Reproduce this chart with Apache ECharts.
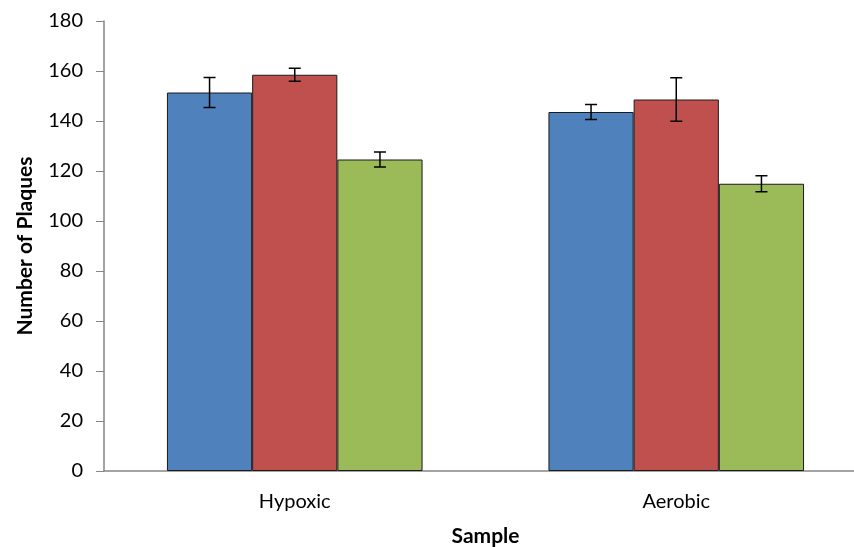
<!DOCTYPE html>
<html>
<head>
<meta charset="utf-8">
<script src="https://cdn.jsdelivr.net/npm/echarts@6/dist/echarts.min.js"></script>
<style>html,body{margin:0;padding:0;background:#fff}#c{width:854px;height:547px}</style>
</head>
<body>
<div id="c"></div>
<script>
const categories = ['Hypoxic', 'Aerobic'];
const seriesNames = ['Series 1', 'Series 2', 'Series 3'];
const values1 = [151.4, 143.6];
const values2 = [158.5, 148.6];
const values3 = [124.6, 114.9];
const errors1 = [6.0, 3.0];
const errors2 = [2.6, 8.7];
const errors3 = [3.0, 3.2];
const yTicks = [0, 20, 40, 60, 80, 100, 120, 140, 160, 180];

const colors = ['#4F81BD', '#C0504D', '#9BBB59'];
const allValues = [values1, values2, values3];
const allErrors = [errors1, errors2, errors3];
const gapFrac = 0.33;
const font = 'Lato, "Open Sans", sans-serif';

const chart = echarts.init(document.getElementById('c'));
const series = [];
allValues.forEach((vals, i) => {
  series.push({
    name: seriesNames[i],
    type: 'bar',
    data: vals,
    barGap: '0%',
    barCategoryGap: (gapFrac * 100) + '%',
    itemStyle: { color: colors[i], borderColor: '#1a1a1a', borderWidth: 1 },
    emphasis: { disabled: true },
    z: 2
  });
});
allValues.forEach((vals, i) => {
  const errs = allErrors[i];
  series.push({
    type: 'custom',
    data: vals.map((v, k) => [k, v, errs[k]]),
    z: 5,
    renderItem: function (params, api) {
      const k = api.value(0), v = api.value(1), e = api.value(2);
      const catW = api.size([1, 0])[0];
      const bw = catW * (1 - gapFrac) / 3;
      const center = api.coord([k, v]);
      const x = center[0] + (i - 1) * bw;
      const top = api.coord([k, v + e])[1];
      const bot = api.coord([k, v - e])[1];
      const cap = 6;
      const st = { stroke: '#000', lineWidth: 1.5 };
      return {
        type: 'group',
        children: [
          { type: 'line', shape: { x1: x, y1: top, x2: x, y2: bot }, style: st },
          { type: 'line', shape: { x1: x - cap, y1: top, x2: x + cap, y2: top }, style: st },
          { type: 'line', shape: { x1: x - cap, y1: bot, x2: x + cap, y2: bot }, style: st }
        ]
      };
    }
  });
});

chart.setOption({
  animation: false,
  backgroundColor: '#fff',
  grid: { left: 104, right: -13, top: 21, bottom: 76, containLabel: false, outerBoundsMode: 'none' },
  xAxis: {
    type: 'category',
    data: categories,
    name: 'Sample',
    nameLocation: 'middle',
    nameGap: 55,
    nameTextStyle: { fontFamily: font, fontWeight: 'bold', fontSize: 21, color: '#000' },
    axisLine: { lineStyle: { color: '#868686', width: 1.5 } },
    axisTick: { show: false },
    axisLabel: { fontFamily: font, fontSize: 20, color: '#000', margin: 21 }
  },
  yAxis: {
    type: 'value',
    min: 0, max: 180, interval: 20,
    name: 'Number of Plaques',
    nameLocation: 'middle',
    nameGap: 68,
    nameTextStyle: { fontFamily: font, fontWeight: 'bold', fontSize: 21, color: '#000' },
    axisLine: { show: true, lineStyle: { color: '#868686', width: 1.5 } },
    axisTick: { show: true, inside: false, length: 8, lineStyle: { color: '#868686' } },
    axisLabel: { fontFamily: font, fontSize: 20, color: '#000', margin: 21,
      formatter: v => yTicks.includes(v) ? String(v) : '' },
    splitLine: { show: false }
  },
  series: series
});
</script>
</body>
</html>
